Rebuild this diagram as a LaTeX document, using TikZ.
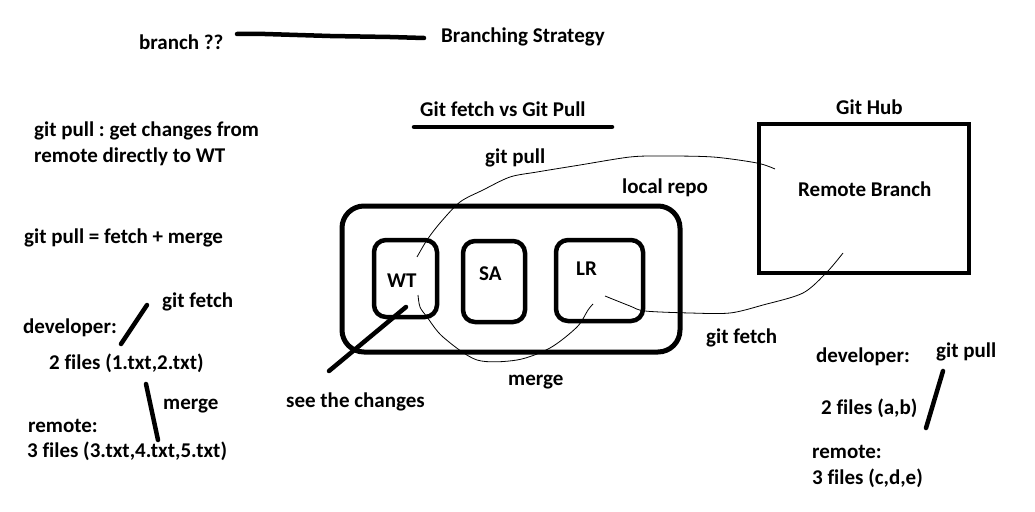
\documentclass[tikz,border=0pt]{standalone}
\usepackage{fontspec}
\setmainfont[Ligatures=NoCommon]{Carlito}
\frenchspacing
\usetikzlibrary{positioning}
\tikzset{
  lbl/.style={font=\bfseries\fontsize{21}{24}\selectfont, inner sep=0pt, anchor=base west},
  repobox/.style={draw, line width=4.5pt, rounded corners=12pt, inner sep=0pt},
  bar/.style={line width=4.5pt, line cap=round},
  wire/.style={line width=0.8pt},
}
\begin{document}
\begin{tikzpicture}[x=1pt, y=-1pt]
        \useasboundingbox (0,0) rectangle (1035,511);
        % top notes
        \node[lbl] (branch) at (139,50) {branch ??};
        \node[lbl] (strategy) at (441,43) {Branching Strategy};
        \coordinate (barA) at (237,34);
        \coordinate (barB) at (424,38);
        \draw[bar] (barA) -- (265,34) -- (330,36) -- (390,37) -- (barB);
        \node[lbl] (title) at (420,116) {Git fetch vs Git Pull};
        \draw[bar] (414,127) -- (612,127);
        % left notes
        \node[lbl] (pullA) at (34,136) {git pull : get changes from};
        \node[lbl] (pullB) at (34,162) {remote directly to WT};
        \node[lbl] (pullEq) at (24,243) {git pull = fetch + merge};
        \node[lbl] (lfetch) at (162,307) {git fetch};
        \node[lbl] (ldev) at (23,333) {developer:};
        \node[lbl] (lfiles) at (49,369) {2 files (1.txt,2.txt)};
        \node[lbl] (lmerge) at (163,409) {merge};
        \node[lbl] (lremote) at (28,432) {remote:};
        \node[lbl] (lrfiles) at (27,457) {3 files (3.txt,4.txt,5.txt)};
        \coordinate (lfA) at (147,305);
        \coordinate (lfB) at (121,344);
        \coordinate (lmA) at (146,384);
        \coordinate (lmB) at (158,440);
        \draw[bar] (lfA) -- (lfB);
        \draw[bar] (lmA) -- (lmB);
        % local repo
        \node[repobox, rounded corners=22pt, line width=5pt, minimum width=338pt, minimum height=146pt] (repo) at (511,279) {};
        \node[repobox, minimum width=63pt, minimum height=77pt] (wt) at (405.5,278.5) {};
        \node[repobox, minimum width=62pt, minimum height=81pt] (sa) at (494,281.5) {};
        \node[repobox, minimum width=87pt, minimum height=81pt] (lr) at (599.5,280.5) {};
        \node[lbl] (wtText) at (387,287) {WT};
        \node[lbl] (saText) at (479,280) {SA};
        \node[lbl] (lrText) at (576,275) {LR};
        \node[lbl] (repoText) at (622,193) {local repo};
        % git hub
        \node[draw, line width=4.5pt, minimum width=210pt, minimum height=149pt] (hub) at (864,198.5) {};
        \node[lbl] (hubText) at (836,114) {Git Hub};
        \node[lbl] (remoteText) at (798,196) {Remote Branch};
        % flows
        \node[lbl] (pullText) at (485,163) {git pull};
        \node[lbl] (fetchText) at (706,343) {git fetch};
        \node[lbl] (mergeText) at (508,385) {merge};
        \node[lbl] (changes) at (286,407) {see the changes};
        \coordinate (wtPull) at (417,257);
        \coordinate (hubPull) at (775,169);
        \coordinate (wtMerge) at (418,295);
        \coordinate (lrMerge) at (593,304);
        \coordinate (lrFetch) at (605,296);
        \coordinate (hubFetch) at (843,253);
        \coordinate (wtSee) at (406,307);
        \coordinate (seeEnd) at (329,371);
        \draw[wire] plot[smooth, tension=0.5] coordinates {(wtPull) (427,240) (440,223) (460,202) (483,190) (510,177) (537,172) (580,165) (630,157) (663,156) (713,157) (757,163) (hubPull)};
        \draw[wire] plot[smooth, tension=0.5] coordinates {(wtMerge) (420,307) (427,317) (443,337) (477,360) (517,360) (550,348) (577,327) (588,310) (lrMerge)};
        \draw[wire] plot[smooth, tension=0.5] coordinates {(lrFetch) (630,306) (645,311) (690,313) (730,313) (763,305) (803,293) (827,272) (hubFetch)};
        \draw[bar] (wtSee) -- (seeEnd);
        % right notes
        \node[lbl] (rdev) at (816,362) {developer:};
        \node[lbl] (rpull) at (936,357) {git pull};
        \node[lbl] (rfiles) at (821,414) {2 files (a,b)};
        \node[lbl] (rremote) at (812,458) {remote:};
        \node[lbl] (rrfiles) at (812,484) {3 files (c,d,e)};
        \coordinate (rpA) at (943,371);
        \coordinate (rpB) at (926,428);
        \draw[bar] (rpA) -- (rpB);
\end{tikzpicture}
\end{document}
